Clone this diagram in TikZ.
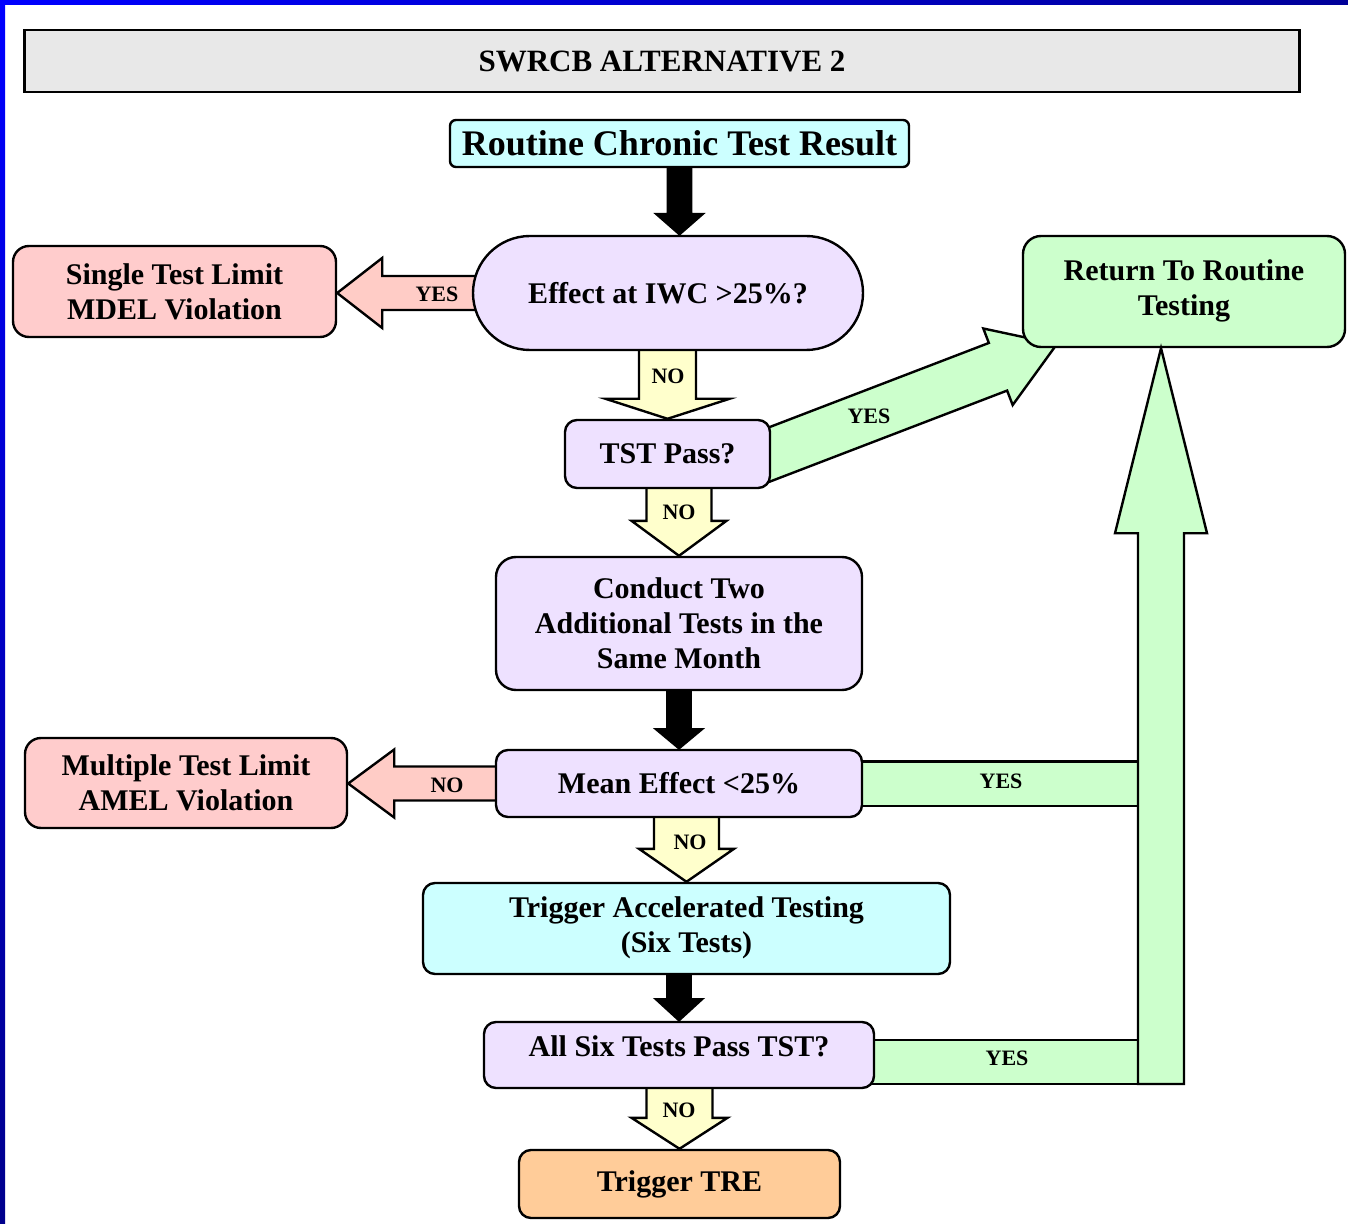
\documentclass[tikz,border=0pt]{standalone}
\usepackage{fontspec}
\setmainfont{Liberation Serif}
\usetikzlibrary{calc,backgrounds}

\definecolor{lav}{HTML}{EEE1FF}
\definecolor{pinkbox}{HTML}{FFCCCC}
\definecolor{pinkarr}{HTML}{FFCCC6}
\definecolor{cyanbox}{HTML}{CCFFFF}
\definecolor{greenbox}{HTML}{CCFFCC}
\definecolor{yellarr}{HTML}{FFFFCC}
\definecolor{orangebox}{HTML}{FFCC99}
\definecolor{titlegray}{HTML}{E8E8E8}

% fat block arrow: style, from, to, half shaft, half head, head length
\newcommand{\fatarrow}[6]{%
  \coordinate (fa) at ($(#3)!#6!(#2)$);
  \draw[#1] ($(#2)!#4!90:(#3)$) -- ($(fa)!#4!90:(#3)$) -- ($(fa)!#5!90:(#3)$)
    -- (#3) -- ($(fa)!#5!-90:(#3)$) -- ($(fa)!#4!-90:(#3)$)
    -- ($(#2)!#4!-90:(#3)$) -- cycle;}

\begin{document}
\begin{tikzpicture}[x=0.5pt, y=-0.5pt,
  box/.style={draw, line width=1.2pt, rounded corners=6pt, align=center, inner sep=0pt, font=\bfseries\fontsize{15}{17.5}\selectfont},
  decision/.style={box, fill=lav},
  violation/.style={box, fill=pinkbox, rounded corners=8pt},
  lbl/.style={font=\bfseries\fontsize{11}{12}\selectfont},
  blk/.style={fill=black, draw=black, line width=0.8pt},
  yesarr/.style={fill=greenbox, draw=black, line width=1.2pt},
  noarr/.style={fill=yellarr, draw=black, line width=1.2pt},
  outarr/.style={fill=pinkarr, draw=black, line width=1.2pt}]
  \useasboundingbox (0,0) rectangle (1348,1224);
  % frame
  \shade[left color=blue, right color=blue!60!black] (0,0) rectangle (1348,5);
  \shade[top color=blue, bottom color=blue!55!black] (0,0) rectangle (5,1224);
  % nodes
  \node[box, sharp corners, fill=titlegray, minimum width=637.5pt, minimum height=31pt, font=\bfseries\fontsize{15.5}{17}\selectfont] (title) at (662,61) {SWRCB ALTERNATIVE 2};
  \node[box, fill=cyanbox, rounded corners=3pt, minimum width=229.5pt, minimum height=23.5pt, font=\bfseries\fontsize{18}{20}\selectfont] (routine) at (679.5,143.5) {Routine Chronic Test Result};
  \node[decision, rounded corners=28.5pt, minimum width=195pt, minimum height=57pt] (effect) at (668,293) {Effect at IWC >25\%?};
  \node[violation, minimum width=161.5pt, minimum height=45.5pt] (single) at (174.5,291.5) {Single Test Limit\\MDEL Violation};
  \node[box, fill=greenbox, rounded corners=9pt, minimum width=161pt, minimum height=55.5pt] (ret) at (1184,291.5) {Return To Routine\\Testing\\[-13.5pt]};
  \node[decision, minimum width=102.5pt, minimum height=34pt] (tst) at (667.5,454) {TST Pass?};
  \node[decision, rounded corners=10pt, minimum width=183pt, minimum height=66.5pt] (conduct) at (679,623.5) {Conduct Two\\Additional Tests in the\\Same Month};
  \node[decision, minimum width=183pt, minimum height=33.5pt] (mean) at (679,783.5) {Mean Effect <25\%};
  \node[violation, minimum width=161pt, minimum height=45pt] (amel) at (186,783) {Multiple Test Limit\\AMEL Violation};
  \node[box, fill=cyanbox, minimum width=263.5pt, minimum height=45.5pt] (accel) at (686.5,928.5) {Trigger Accelerated Testing\\(Six Tests)\\[-13.5pt]};
  \node[decision, minimum width=195pt, minimum height=33pt] (allsix) at (679,1055) {\raisebox{9pt}{All Six Tests Pass TST?}};
  \node[box, fill=orangebox, minimum width=160.5pt, minimum height=34pt] (tre) at (679.5,1184) {Trigger TRE};
  % connector ends
  \coordinate (t1) at (routine |- effect.north);
  \coordinate (t2) at (single.east |- effect);
  \coordinate (s3) at (tst |- effect);
  \coordinate (s4) at (755,460);
  \coordinate (t4) at ($(ret.south west)+(35,-4)$);
  \coordinate (s5) at (conduct |- tst);
  \coordinate (t7) at (amel.east |- mean);
  \coordinate (s9) at (accel |- mean);
  \coordinate (s10) at (allsix |- accel);
  \coordinate (s13) at (tre |- allsix);
  \coordinate (meanin) at (1138,806);
  \coordinate (sixin) at (1138,1084);
  \coordinate (vbot) at (1161,1084);
  \coordinate (vtop) at (vbot |- ret.south);
  % block arrows
  \begin{scope}[on background layer]
    \fatarrow{blk}{routine}{t1}{6pt}{12pt}{10.5pt}
    \fatarrow{outarr}{effect}{t2}{8.5pt}{17.5pt}{22.5pt}
    \fatarrow{noarr}{s3}{tst.north}{14.25pt}{31pt}{10pt}
    \fatarrow{yesarr}{s4}{t4}{12.75pt}{20.5pt}{31.5pt}
    \fatarrow{noarr}{s5}{conduct.north}{16.25pt}{23.75pt}{17.5pt}
    \fatarrow{blk}{conduct}{mean.north}{6pt}{12pt}{10pt}
    \fatarrow{outarr}{mean}{t7}{8.5pt}{17pt}{23pt}
    \fatarrow{noarr}{s9}{accel.north}{16.25pt}{23.75pt}{16.5pt}
    \fatarrow{blk}{s10}{allsix.north}{6pt}{12pt}{11pt}
    \fatarrow{noarr}{s13}{tre.north}{16.5pt}{24pt}{15.5pt}
    \draw[yesarr] ($(mean.east)+(-10,-22)$) rectangle (meanin);
    \draw[yesarr] ($(allsix.east)+(-10,-15)$) rectangle (sixin);
  \end{scope}
  \fatarrow{yesarr}{vbot}{vtop}{11.5pt}{23pt}{92.5pt}
  % labels
  \node[lbl] (l1) at (437,294) {YES};
  \node[lbl] (l2) at (668,376) {NO};
  \node[lbl] (l3) at (869,416) {YES};
  \node[lbl] (l4) at (679,512) {NO};
  \node[lbl] (l5) at (447,785) {NO};
  \node[lbl] (l6) at (1001,781) {YES};
  \node[lbl] (l7) at (690,842) {NO};
  \node[lbl] (l8) at (1007,1058) {YES};
  \node[lbl] (l9) at (679,1110) {NO};
\end{tikzpicture}
\end{document}
